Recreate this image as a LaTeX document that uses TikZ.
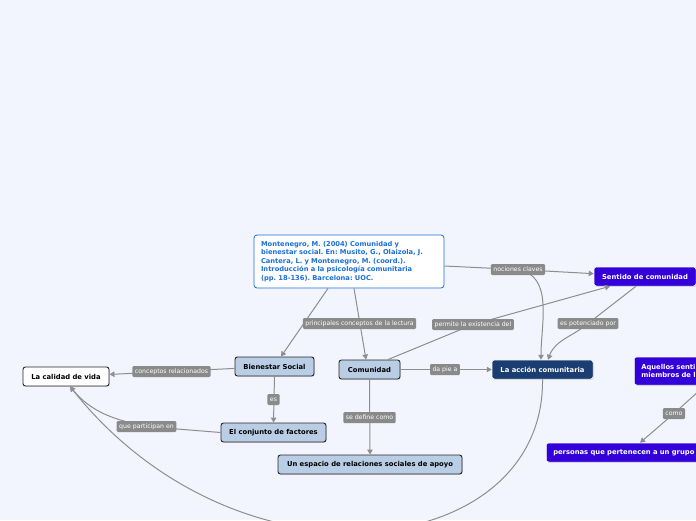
\documentclass[tikz,border=0pt]{standalone}
\usepackage{fontspec}
\setmainfont{DejaVu Sans}
\usetikzlibrary{arrows.meta,shadows}
\definecolor{bg}{HTML}{F3F5FE}
\definecolor{lineg}{HTML}{8E8E8E}
\definecolor{labg}{HTML}{8A8A8A}
\definecolor{lblue}{HTML}{B9CDE5}
\definecolor{violet}{HTML}{3300D9}
\definecolor{navy}{HTML}{1B3E72}
\definecolor{refblue}{HTML}{1C6FD9}
\frenchspacing
\begin{document}
\begin{tikzpicture}[x=1pt,y=-1pt,
  box/.style={rounded corners=2.5pt, draw=black!85, line width=0.9pt,
    font=\fontsize{6.8}{8}\selectfont\bfseries, inner sep=0pt,
    minimum height=19pt, align=center,
    drop shadow={shadow xshift=0.8pt, shadow yshift=-0.8pt, opacity=0.25}},
  dark/.style={box, draw=white, line width=0.5pt, text=white},
  lbl/.style={fill=labg, text=white, rounded corners=1.2pt,
    font=\fontsize{6.2}{7}\selectfont, inner xsep=2.5pt, inner ysep=0pt,
    minimum height=11pt},
  conn/.style={draw=lineg, line width=1pt},
  arr/.style={conn, -{Triangle[width=5.5pt,length=5pt]}}]
\useasboundingbox (0,0) rectangle (696,520);
\fill[bg] (0,0) rectangle (696,520);
\clip (0,0) rectangle (696,520);

% nodes
\node[rounded corners=3pt, draw=refblue, fill=white, line width=0.8pt,
  text=refblue, align=left, font=\fontsize{6.7}{8.6}\selectfont\bfseries,
  text width=176pt, inner xsep=7pt, inner ysep=5pt, minimum height=53pt]
  (ref) at (349,261.5)
  {Montenegro, M. (2004) Comunidad y\\bienestar social. En: Musito, G., Olaizola, J.\\Cantera, L. y Montenegro, M. (coord.).\\Introducción a la psicología comunitaria\\(pp. 18-136). Barcelona: UOC.};
\node[dark, fill=violet, minimum width=102pt] (sent) at (645,276.5) {Sentido de comunidad};
\node[dark, fill=navy, minimum width=101pt] (accion) at (542.5,369.5) {La acción comunitaria};
\node[dark, fill=violet, minimum width=140pt, minimum height=28pt, align=left,
  anchor=west, text width=128pt, inner xsep=7pt] (aquellos) at (634,371)
  {Aquellos senti\\miembros de l};
\node[dark, fill=violet, minimum width=160pt, align=left, anchor=west,
  text width=148pt, inner xsep=7pt] (pers) at (546,452.5)
  {personas que pertenecen a un grupo};
\node[box, fill=white, minimum width=86pt] (calidad) at (66,376.5) {La calidad de vida};
\node[box, fill=lblue, minimum width=79pt] (bien) at (274.5,366.5) {Bienestar Social};
\node[box, fill=lblue, minimum width=61pt] (com) at (369.5,369.5) {Comunidad};
\node[box, fill=lblue, minimum width=105pt] (conj) at (273.5,432.5) {El conjunto de factores};
\node[box, fill=lblue, minimum width=184pt] (esp) at (370,464.5) {Un espacio de relaciones sociales de apoyo};

% connectors
\coordinate (l1c) at (518,269.5);
\coordinate (l4c) at (588,323.5);
\coordinate (l7c) at (146.5,426.5);
\coordinate (l10c) at (674,413.5);
\draw[arr] (ref) -- (l1c) -- (sent);
\draw[arr] (l1c) to[out=-10,in=90] ([xshift=-1.5pt]accion.north);
\draw[arr] ([xshift=-21pt]ref.south) -- ([xshift=6.5pt]bien.north);
\draw[arr] ([xshift=5pt]ref.south) -- ([xshift=-3.5pt]com.north);
\draw[arr] ([xshift=18.5pt]com.north) -- (473,324.5) -- ([xshift=-35pt]sent.south);
\draw[arr] ([xshift=-9pt]sent.south) -- (l4c) to[out=-140,in=70] ([xshift=5.5pt]accion.north);
\draw[arr] (com) -- (accion);
\draw[arr] (bien) -- (calidad);
\draw[arr] (bien.south) -- (conj.north);
\draw[arr] (conj.west) -- (l7c) to[out=168,in=-50] ([xshift=4pt]calidad.south);
\draw[arr] (com.south) -- (esp.north);
\draw[arr] (accion.south) .. controls (545,560) and (240,600) .. ([xshift=4pt]calidad.south);
\draw[arr] (aquellos.south) -- (l10c) -- ([xshift=94pt]pers.north west);

% labels
\node[lbl] (l1) at (l1c) {nociones claves};
\node[lbl] (l2) at (359.5,323.5) {principales conceptos de la lectura};
\node[lbl] (l3) at (473,324.5) {permite la existencia del};
\node[lbl] (l4) at (l4c) {es potenciado por};
\node[lbl] (l5) at (445,369.5) {da pie a};
\node[lbl] (l6) at (171.5,371.5) {conceptos relacionados};
\node[lbl] (l7) at (l7c) {que participan en};
\node[lbl] (l8) at (273.5,399.5) {es};
\node[lbl] (l9) at (369.5,417.5) {se define como};
\node[lbl] (l10) at (l10c) {como};
\end{tikzpicture}
\end{document}
